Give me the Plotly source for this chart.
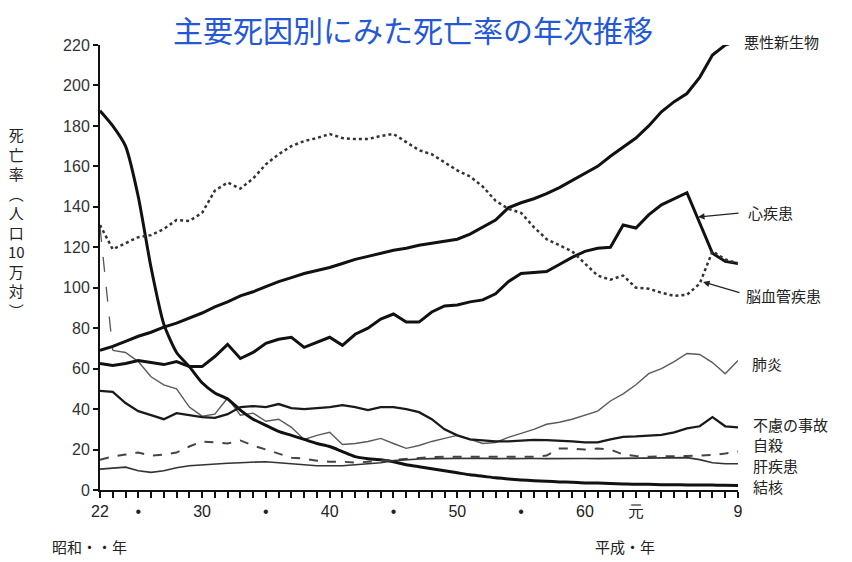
import plotly.graph_objects as go

years = list(range(1947, 1998))

tuberculosis = [187.5, 180, 170, 145, 110, 82, 68, 61, 53, 48,
                45, 39.5, 35, 32, 29, 27, 25, 23, 21.5, 19,
                16.5, 15.5, 15, 14, 12.5, 11.5, 10.5, 9.5, 8.5, 7.5,
                6.8, 6, 5.5, 5, 4.6, 4.3, 4, 3.8, 3.5, 3.4,
                3.2, 3, 2.8, 2.8, 2.6, 2.6, 2.5, 2.5, 2.5, 2.3,
                2.2]

cancer = [69, 71, 73.5, 76, 78, 80.5, 82.5, 85, 87.5, 90.5,
          93, 96, 98, 100.5, 103, 105, 107, 108.5, 110, 112,
          114, 115.5, 117, 118.5, 119.5, 121, 122, 123, 124, 126.5,
          130, 133.5, 139.5, 142, 144, 146.5, 149.5, 153, 156.5, 160,
          165, 169.5, 174, 180, 187, 192, 196, 204, 215, 220,
          222]

heart = [62.5, 61.5, 62.5, 64, 63, 62, 63.5, 61, 61, 66,
         72, 65, 68, 72.5, 74.5, 75.5, 70.5, 73, 75.5, 71.5,
         77, 80, 84.5, 87, 83, 83, 88, 91, 91.5, 93,
         94, 97, 103, 107, 107.5, 108, 111.5, 115, 118, 119.5,
         120, 131, 129.5, 136, 141, 144, 147, 132, 117, 113,
         112]

cerebro = [131, 119, 122, 125, 126, 129, 133.5, 133, 137, 148,
           152, 149, 154, 161, 166, 170, 172.5, 174, 176, 174,
           173.5, 173.5, 175, 176, 172, 168, 166, 162, 158, 155,
           150, 143, 139, 137, 130, 124, 121, 118, 112, 106,
           104, 106, 100, 99.5, 97.5, 96, 96.5, 102, 118, 114,
           112]

pneumonia = [130, 69, 68, 63.5, 56, 52, 50, 41, 36.5, 37.5,
             45.5, 37, 38, 34, 35, 31, 25, 27, 28.5, 22.5,
             23, 24, 25.5, 23, 20.6, 22, 24, 25.5, 27, 25,
             23, 23.5, 26, 28, 30, 32.5, 33.5, 35, 37, 39,
             44, 47.5, 52, 57.5, 60, 63.5, 67.5, 67, 63, 57.5,
             64]

accident = [49, 48.5, 43, 39, 37, 35, 38, 37, 36, 35.7,
            37.5, 41, 41.5, 41, 42.5, 40.5, 40, 40.5, 41, 42,
            41, 39.5, 41, 41, 40, 38.5, 35, 30, 27, 25,
            24.5, 24, 24, 24.5, 24.8, 24.7, 24.5, 24, 23.5, 23.5,
            25, 26.3, 26.5, 27, 27.2, 28.5, 30.5, 31.5, 36, 31.5,
            31]

suicide = [15, 16.5, 17.5, 18.5, 17, 17.5, 18.5, 21.5, 24, 23.5,
           23, 24.5, 22, 20, 18, 16, 15.5, 14.5, 14, 14,
           13.5, 14, 14.5, 15, 15.3, 16, 16.3, 16.5, 16.5, 16.5,
           16.5, 16.5, 16.5, 16.5, 16.5, 17, 20.5, 20.5, 20, 20.5,
           20, 17.5, 16.8, 16.5, 16.5, 16.7, 16.8, 17, 17.3, 18,
           19]

liver = [10.3, 10.8, 11.3, 9.5, 8.7, 9.5, 11, 12, 12.5, 13,
         13.2, 13.5, 13.8, 14, 13.5, 13, 12.5, 12, 12, 12,
         12.5, 13, 13.5, 14.5, 15, 15.3, 15.5, 15.6, 15.4, 15.6,
         15.7, 15.5, 15.6, 15.8, 15.6, 15.5, 15.6, 15.7, 15.6, 15.5,
         15.6, 15.7, 15.8, 16, 16, 16.1, 16, 15, 13.5, 13,
         13]

xtick_years = [1947, 1950, 1955, 1960, 1965, 1970, 1975, 1980, 1985, 1989, 1997]
xtick_labels = ["22", "•", "30", "•", "40", "•", "50", "•", "60", "元", "9"]
ytick_vals = list(range(0, 221, 20))

title_text = "主要死因別にみた死亡率の年次推移"
ylabel_chars = ["死", "亡", "率", "︵", "人", "口", "10", "万", "対", "︶"]

# page offset (body margin) and figure geometry
OFF = 8
W, H = 844, 554
L, R, T, B = 92, 114, 37, 72
PW, PH = W - L - R, H - T - B

def px(sx):
    return (sx - OFF - L) / PW

def py(sy):
    return (H - B - (sy - OFF)) / PH

fig = go.Figure()

fig.add_trace(go.Scatter(x=years[:2], y=pneumonia[:2], mode="lines",
                         line=dict(color="#555", width=1.3, dash="longdash"),
                         hoverinfo="skip"))
fig.add_trace(go.Scatter(x=years[1:], y=pneumonia[1:], mode="lines",
                         line=dict(color="#5a5a5a", width=1.4),
                         hoverinfo="skip"))

series = [
    (tuberculosis, dict(color="#111", width=3, shape="spline", smoothing=0.6)),
    (cancer, dict(color="#111", width=3)),
    (heart, dict(color="#111", width=3)),
    (cerebro, dict(color="#333", width=2.5, dash="dot")),
    (accident, dict(color="#1a1a1a", width=2.3)),
    (suicide, dict(color="#444", width=2, dash="dash")),
    (liver, dict(color="#333", width=1.6)),
]
for ys, ln in series:
    fig.add_trace(go.Scatter(x=years, y=ys, mode="lines", line=ln, hoverinfo="skip"))

jp = "Noto Sans CJK JP"
lab_font = dict(family=jp, size=15, color="#222")

annotations = []
right_labels = [
    ("悪性新生物", 742, 41),
    ("心疾患", 746, 213),
    ("脳血管疾患", 744, 295),
    ("肺炎", 750, 363),
    ("不慮の事故", 751, 424),
    ("自殺", 751, 444),
    ("肝疾患", 751, 465),
    ("結核", 751, 486),
]
for txt, x, y in right_labels:
    annotations.append(dict(text=txt, x=px(x), y=py(y), xref="paper", yref="paper",
                            xanchor="left", yanchor="middle", showarrow=False,
                            font=lab_font))
annotations.append(dict(text="", x=px(698), y=py(217), xref="paper", yref="paper",
                        ax=42, ay=-4, showarrow=True, arrowhead=2, arrowsize=1,
                        arrowwidth=1.3, arrowcolor="#222"))
annotations.append(dict(text="", x=px(703), y=py(282), xref="paper", yref="paper",
                        ax=38, ay=11, showarrow=True, arrowhead=2, arrowsize=1,
                        arrowwidth=1.3, arrowcolor="#222"))
annotations.append(dict(text="昭和・・年", x=px(50), y=py(546), xref="paper", yref="paper",
                        xanchor="left", yanchor="middle", showarrow=False,
                        font=dict(family=jp, size=15, color="#222")))
annotations.append(dict(text="平成・年", x=px(593), y=py(546), xref="paper", yref="paper",
                        xanchor="left", yanchor="middle", showarrow=False,
                        font=dict(family=jp, size=15, color="#222")))
annotations.append(dict(text="<br>".join(ylabel_chars), x=px(16), y=py(222),
                        xref="paper", yref="paper", xanchor="center", yanchor="middle",
                        showarrow=False, align="center",
                        font=dict(family=jp, size=15, color="#222")))
# title
annotations.append(dict(text=title_text, x=px(413), y=py(29), xref="paper", yref="paper",
                        xanchor="center", yanchor="middle", showarrow=False,
                        font=dict(family=jp, size=30, color="#2458d6")))

fig.update_layout(
    width=W, height=H,
    margin=dict(l=L, r=R, t=T, b=B),
    paper_bgcolor="white", plot_bgcolor="white",
    showlegend=False,
    annotations=annotations,
)
narrow = "Liberation Sans Narrow, Liberation Sans"
fig.update_xaxes(range=[1947, 1997], showgrid=False, zeroline=False,
                 showline=True, linecolor="#111", linewidth=2,
                 tickmode="array", tickvals=xtick_years, ticktext=xtick_labels,
                 ticks="outside", ticklen=6, tickwidth=1.5, tickcolor="#111",
                 tickfont=dict(family=narrow, size=16, color="#222"),
                 minor=dict(ticks="outside", tickmode="linear", tick0=1947, dtick=1,
                            ticklen=6, tickwidth=1.5, tickcolor="#111"))
fig.update_yaxes(range=[0, 220], showgrid=False, zeroline=False,
                 showline=True, linecolor="#111", linewidth=2,
                 tickmode="array", tickvals=ytick_vals,
                 ticks="outside", ticklen=5, tickwidth=1.5, tickcolor="#111",
                 tickfont=dict(family=narrow, size=16, color="#333"))

fig.write_html("out.html")
